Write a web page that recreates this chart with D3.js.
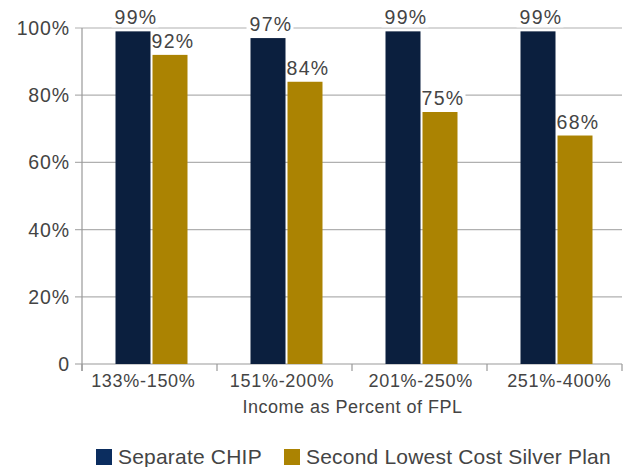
<!DOCTYPE html>
<html><head><meta charset="utf-8">
<script src="https://cdn.jsdelivr.net/npm/d3@7"></script>
<style>body{margin:0;background:#fff}svg{display:block}</style>
</head><body>
<script>
const categories = ["133%-150%", "151%-200%", "201%-250%", "251%-400%"];
const seriesNames = ["Separate CHIP", "Second Lowest Cost Silver Plan"];
const chipValues = [99, 97, 99, 99];
const silverValues = [92, 84, 75, 68];
const yTicks = [0, 20, 40, 60, 80, 100];
const xTitle = "Income as Percent of FPL";
const colors = ["#0b1f3e", "#ab8302"];
const legendColors = ["#0b2d5f", "#ab8302"];

const W = 624, H = 467;
const m = {left: 82, right: 2, top: 28, bottom: 103};
const svg = d3.select("body").append("svg").attr("width", W).attr("height", H);
const font = "'Liberation Sans', Arial, Helvetica, sans-serif";
const textColor = "#444";

const x = d3.scaleBand().domain(categories).range([m.left, W - m.right]);
// category labels in the reference sit on a slightly tighter spread than the bands
const xLab = d3.scalePoint().domain(categories).range([143, 559]);
const y = d3.scaleLinear().domain([0, 100]).range([H - m.bottom, m.top]);
const barW = 35, gap = 2, shift = 2;

// gridlines
svg.append("g").selectAll("line").data(yTicks.filter(d => d > 0)).join("line")
  .attr("x1", m.left - 7).attr("x2", W - m.right)
  .attr("y1", d => y(d)).attr("y2", d => y(d))
  .attr("stroke", "#b0b0b0").attr("stroke-width", 1.2);

// y axis line
svg.append("line").attr("x1", m.left).attr("x2", m.left)
  .attr("y1", y(100)).attr("y2", y(0) + 7).attr("stroke", "#999").attr("stroke-width", 1.2);
// x axis line
svg.append("line").attr("x1", m.left - 7).attr("x2", W - m.right)
  .attr("y1", y(0)).attr("y2", y(0)).attr("stroke", "#999").attr("stroke-width", 1.2);
// x category ticks
const bounds = categories.map(c => x(c)).concat([x(categories[categories.length-1]) + x.bandwidth()]);
svg.append("g").selectAll("line").data(bounds).join("line")
  .attr("x1", d => d).attr("x2", d => d).attr("y1", y(0)).attr("y2", y(0) + 7)
  .attr("stroke", "#999").attr("stroke-width", 1.2);

// y tick labels
svg.append("g").selectAll("text").data(yTicks).join("text")
  .attr("x", m.left - 13 + 0.8).attr("y", d => y(d) + 7)
  .attr("text-anchor", "end").attr("font-family", font).attr("font-size", 19.5)
  .attr("letter-spacing", "0.8px")
  .attr("fill", textColor).text(d => d === 0 ? "0" : d + "%");

// x labels
svg.append("g").selectAll("text").data(categories).join("text")
  .attr("x", d => xLab(d) + 0.35).attr("y", y(0) + 23)
  .attr("text-anchor", "middle").attr("font-family", font).attr("font-size", 18)
  .attr("letter-spacing", "0.7px")
  .attr("fill", textColor).text(d => d);

svg.append("text").attr("x", (m.left + W - m.right) / 2 + 0.5).attr("y", y(0) + 49)
  .attr("text-anchor", "middle").attr("font-family", font).attr("font-size", 18)
  .attr("letter-spacing", "0.5px")
  .attr("fill", textColor).text(xTitle);

// bars + labels
const series = [chipValues, silverValues];
const bx = (c, si) => x(c) + x.bandwidth() / 2 - barW - gap / 2 + si * (barW + gap) + shift;
const labelLayer = svg.append("g");
const barLayer = svg.append("g");
const textLayer = svg.append("g");
series.forEach((vals, si) => {
  barLayer.append("g").selectAll("rect").data(categories).join("rect")
    .attr("x", c => bx(c, si)).attr("width", barW)
    .attr("y", (c, i) => y(vals[i])).attr("height", (c, i) => y(0) - y(vals[i]))
    .attr("fill", colors[si]);
  categories.forEach((c, i) => {
    const cx = bx(c, si) + barW / 2 + 3;
    const t = textLayer.append("text")
      .attr("x", cx).attr("y", y(vals[i]) - 7)
      .attr("text-anchor", "middle").attr("font-family", font).attr("font-size", 19.5)
      .attr("letter-spacing", "1.3px")
      .attr("fill", textColor).text(vals[i] + "%");
    const bb = t.node().getBBox();
    labelLayer.append("rect")
      .attr("x", bb.x - 3).attr("y", bb.y + 2).attr("width", bb.width + 4).attr("height", bb.height - 3)
      .attr("fill", "#fff");
  });
});

// legend
const legX = [96, 284];
seriesNames.forEach((n, i) => {
  svg.append("rect").attr("x", legX[i]).attr("y", 449).attr("width", 16).attr("height", 16)
    .attr("fill", legendColors[i]);
  svg.append("text").attr("x", legX[i] + 22).attr("y", 464).attr("font-family", font)
    .attr("font-size", 21).attr("letter-spacing", "0.2px").attr("fill", textColor).text(n);
});
</script>
</body></html>
